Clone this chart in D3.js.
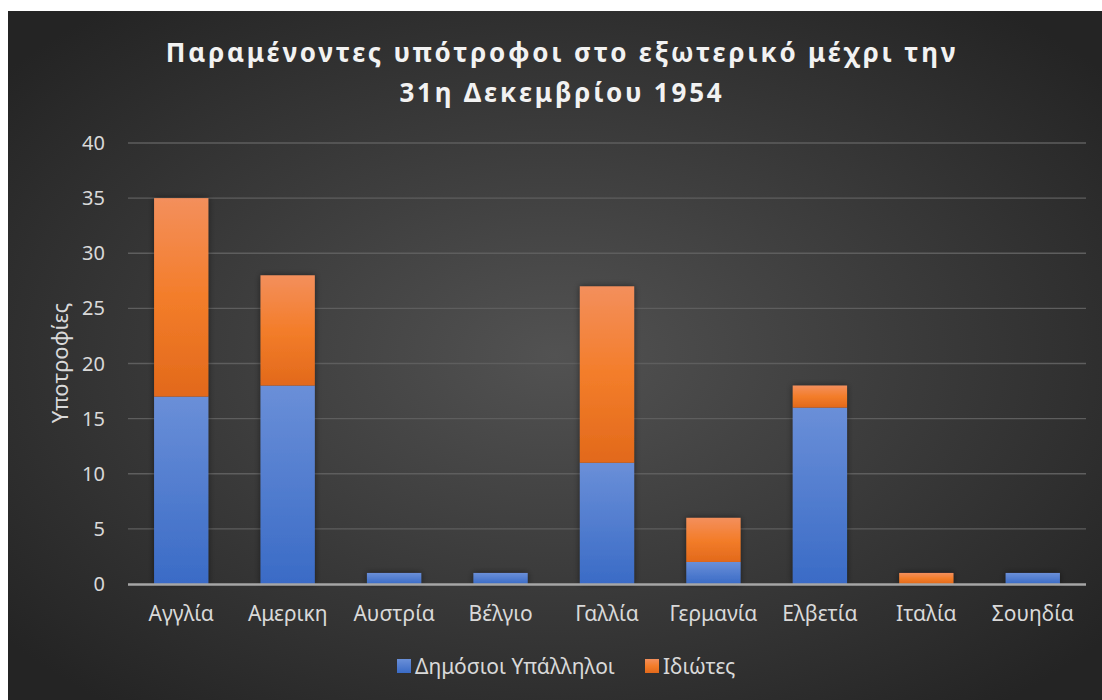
<!DOCTYPE html>
<html lang="el">
<head>
<meta charset="utf-8">
<style>
    body { margin: 0; background: #fff; }
    text { font-family: "Noto Sans", "Open Sans", sans-serif; }
</style>
</head>
<body>
<svg width="1102" height="700"></svg>
<script src="https://cdn.jsdelivr.net/npm/d3@7"></script>
<script>
    // data
    var countries = ["Αγγλία", "Αμερικη", "Αυστρία", "Βέλγιο", "Γαλλία", "Γερμανία", "Ελβετία", "Ιταλία", "Σουηδία"];
    var publicServants = [17, 18, 1, 1, 11, 2, 16, 0, 1];
    var privateScholars = [18, 10, 0, 0, 16, 4, 2, 1, 0];
    var seriesNames = ["Δημόσιοι Υπάλληλοι", "Ιδιώτες"];
    var yTicks = [0, 5, 10, 15, 20, 25, 30, 35, 40];

    var svg = d3.select("svg");
    var defs = svg.append("defs");

    var bg = defs.append("radialGradient").attr("id", "bg")
        .attr("cx", "50%").attr("cy", "50%").attr("r", "65%");
    bg.append("stop").attr("offset", "0%").attr("stop-color", "#525252");
    bg.append("stop").attr("offset", "100%").attr("stop-color", "#242424");

    var gradBlue = defs.append("linearGradient").attr("id", "gBlue").attr("x1", 0).attr("y1", 0).attr("x2", 0).attr("y2", 1);
    gradBlue.append("stop").attr("offset", "0%").attr("stop-color", "#6a8fd8");
    gradBlue.append("stop").attr("offset", "100%").attr("stop-color", "#3a6bc6");
    var gradOrange = defs.append("linearGradient").attr("id", "gOrange").attr("x1", 0).attr("y1", 0).attr("x2", 0).attr("y2", 1);
    gradOrange.append("stop").attr("offset", "0%").attr("stop-color", "#f38f5c");
    gradOrange.append("stop").attr("offset", "50%").attr("stop-color", "#f37d2a");
    gradOrange.append("stop").attr("offset", "100%").attr("stop-color", "#e2691b");

    var shadow = defs.append("filter").attr("id", "shadow").attr("x", "-20%").attr("y", "-20%").attr("width", "140%").attr("height", "140%");
    shadow.append("feDropShadow").attr("dx", 0).attr("dy", 0).attr("stdDeviation", 3)
        .attr("flood-color", "#000").attr("flood-opacity", 0.5);

    svg.append("rect").attr("x", 8).attr("y", 11).attr("width", 1094).attr("height", 689)
        .attr("fill", "url(#bg)");

    var margin = {left: 128, right: 1086, top: 143, bottom: 584};

    var x = d3.scaleBand().domain(countries).range([margin.left, margin.right]).paddingInner(0.49).paddingOuter(0.245);
    var y = d3.scaleLinear().domain([0, 40]).range([margin.bottom, margin.top]);

    // grid
    svg.append("g").selectAll("line").data(yTicks.filter(function (d) { return d > 0; })).enter()
        .append("line")
        .attr("x1", margin.left).attr("x2", margin.right)
        .attr("y1", function (d) { return y(d); }).attr("y2", function (d) { return y(d); })
        .attr("stroke", "#5e5e5e").attr("stroke-width", 1.3);

    // y tick labels
    svg.append("g").selectAll("text").data(yTicks).enter()
        .append("text")
        .attr("x", 105).attr("y", function (d) { return y(d) + 7; })
        .attr("text-anchor", "end").attr("font-size", 20).attr("fill", "#d9d9d9")
        .text(function (d) { return d; });

    // bars
    var stacked = countries.map(function (c, i) {
        return [
            {c: c, y0: 0, y1: publicServants[i], fill: "url(#gBlue)"},
            {c: c, y0: publicServants[i], y1: publicServants[i] + privateScholars[i], fill: "url(#gOrange)"}
        ];
    });
    var segs = [].concat.apply([], stacked).filter(function (d) { return d.y1 > d.y0; });
    svg.append("g").attr("filter", "url(#shadow)").selectAll("rect").data(segs).enter()
        .append("rect")
        .attr("x", function (d) { return x(d.c); })
        .attr("width", x.bandwidth())
        .attr("y", function (d) { return y(d.y1); })
        .attr("height", function (d) { return y(d.y0) - y(d.y1); })
        .attr("fill", function (d) { return d.fill; });

    // baseline
    svg.append("line").attr("x1", margin.left).attr("x2", margin.right)
        .attr("y1", y(0) + 0.5).attr("y2", y(0) + 0.5)
        .attr("stroke", "#a6a6a6").attr("stroke-width", 2.5);

    // category labels
    svg.append("g").selectAll("text").data(countries).enter()
        .append("text")
        .attr("x", function (d) { return x(d) + x.bandwidth() / 2; })
        .attr("y", 621).attr("text-anchor", "middle")
        .attr("font-size", 21).attr("fill", "#d9d9d9")
        .text(function (d) { return d; });

    // y axis title
    svg.append("text")
        .attr("transform", "translate(68,363) rotate(-90)")
        .attr("text-anchor", "middle").attr("font-size", 22).attr("fill", "#d9d9d9")
        .text("Υποτροφίες");

    // title
    var title = svg.append("text").attr("text-anchor", "middle").attr("font-size", 26)
        .attr("font-weight", "bold").attr("fill", "#f2f2f2").attr("letter-spacing", 2.8);
    title.append("tspan").attr("x", 562).attr("y", 62).text("Παραμένοντες υπότροφοι στο εξωτερικό μέχρι την");
    title.append("tspan").attr("x", 562).attr("y", 102).text("31η Δεκεμβρίου 1954");

    // legend
    var legend = svg.append("g");
    var legX = [397, 645];
    var legFill = ["url(#gBlue)", "url(#gOrange)"];
    seriesNames.forEach(function (s, i) {
        legend.append("rect").attr("x", legX[i]).attr("y", 659).attr("width", 14).attr("height", 14)
            .attr("fill", legFill[i]);
        legend.append("text").attr("x", legX[i] + 18).attr("y", 674)
            .attr("font-size", 21).attr("fill", "#d9d9d9").text(s);
    });
</script>
</body>
</html>
